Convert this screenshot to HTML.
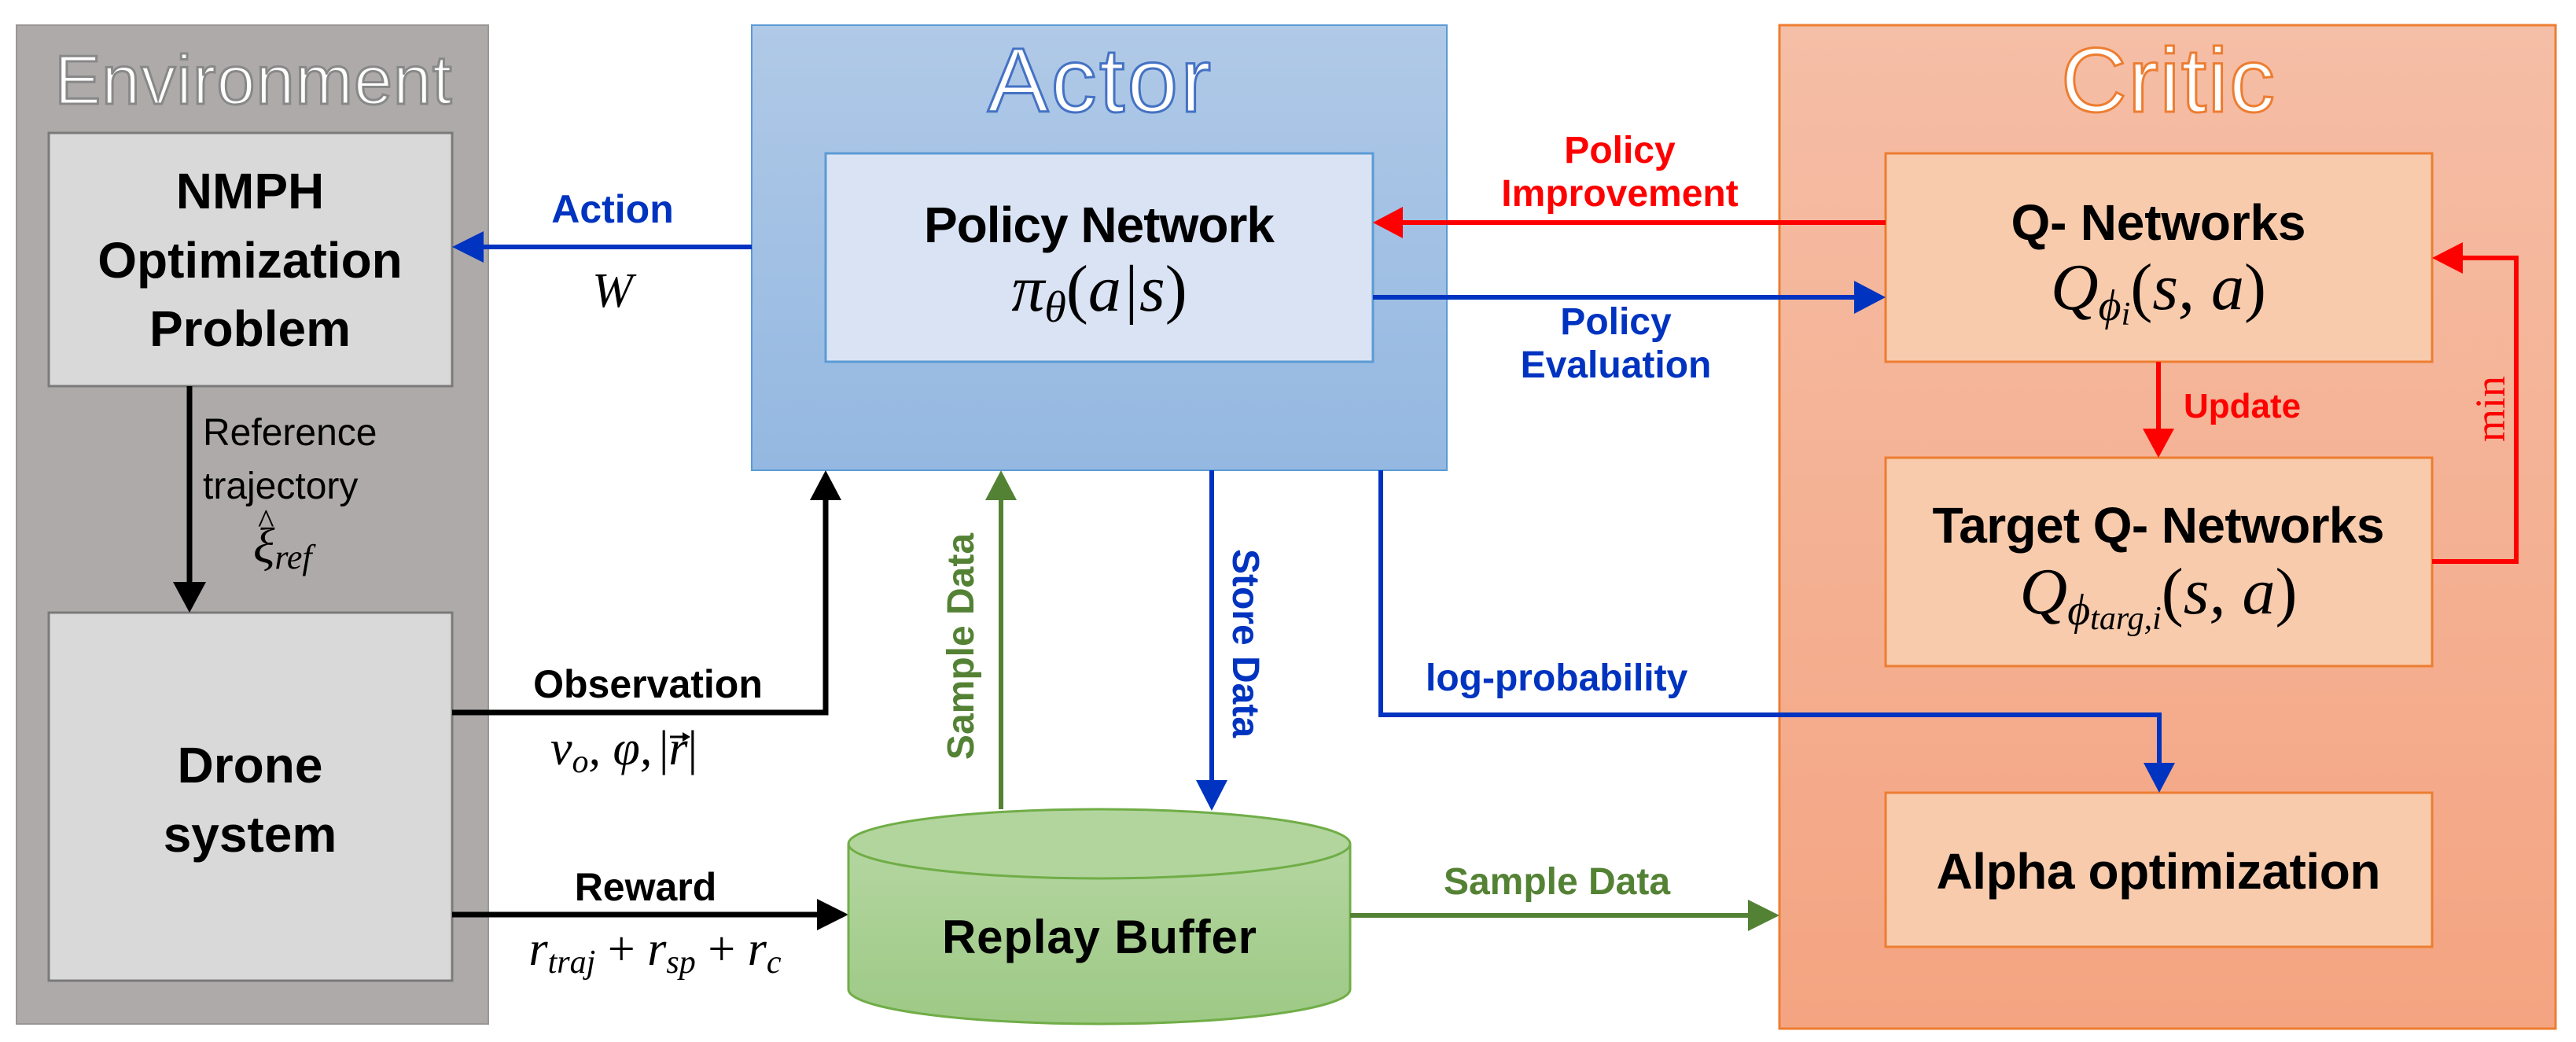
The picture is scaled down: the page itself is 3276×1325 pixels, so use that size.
<!DOCTYPE html>
<html><head><meta charset="utf-8"><style>html,body{margin:0;padding:0;background:#fff}svg{display:block}</style></head>
<body>
<svg width="3276" height="1325" viewBox="0 0 3276 1325" xmlns="http://www.w3.org/2000/svg">
<defs>
<linearGradient id="ga" x1="0" y1="0" x2="0" y2="1"><stop offset="0" stop-color="#b0c9e7"/><stop offset="1" stop-color="#94b8e1"/></linearGradient>
<linearGradient id="gc" x1="0" y1="0" x2="0" y2="1"><stop offset="0" stop-color="#f5bea6"/><stop offset="1" stop-color="#f4a481"/></linearGradient>
<linearGradient id="gg" x1="0" y1="0" x2="0" y2="1"><stop offset="0" stop-color="#b4d6a0"/><stop offset="1" stop-color="#9dc985"/></linearGradient>
</defs>
<style>
.b{font-family:"Liberation Sans",sans-serif;font-weight:bold}
.m{font-family:"Liberation Serif",serif;font-style:italic}
</style>
<!-- Environment -->
<rect x="21" y="32" width="600" height="1270" fill="#aeaaaa" stroke="#9a9696" stroke-width="2"/>
<text x="322" y="132" class="b" font-size="88" text-anchor="middle" fill="#fff" stroke="#888" stroke-width="3" textLength="505" style="font-weight:normal">Environment</text>
<rect x="62" y="169" width="513" height="322" fill="#d9d9d9" stroke="#7a7a7a" stroke-width="3"/>
<rect x="62" y="779" width="513" height="468" fill="#d9d9d9" stroke="#7a7a7a" stroke-width="3"/>
<g class="b" font-size="64" text-anchor="middle">
<text x="318" y="265">NMPH</text>
<text x="318" y="353">Optimization</text>
<text x="318" y="440">Problem</text>
<text x="318" y="995">Drone</text>
<text x="318" y="1083">system</text>
</g>
<line x1="241" y1="491" x2="241" y2="745" stroke="#000" stroke-width="7"/>
<polygon points="220,740 262,740 241,779" fill="#000"/>
<text x="258" y="566" font-family="Liberation Sans,sans-serif" font-size="48">Reference</text>
<text x="258" y="634" font-family="Liberation Sans,sans-serif" font-size="48">trajectory</text>
<text x="322" y="715" class="m" font-size="64">ξ<tspan font-size="44" dy="8">ref</tspan></text>
<text x="328" y="678" font-family="Liberation Serif,serif" font-size="44">^</text>

<!-- Actor -->
<rect x="956" y="32" width="884" height="566" fill="url(#ga)" stroke="#5b9bd5" stroke-width="2"/>
<text x="1398" y="142" class="b" font-size="116" text-anchor="middle" fill="#fff" stroke="#4472c4" stroke-width="3" style="font-weight:normal" textLength="284">Actor</text>
<rect x="1050" y="195" width="696" height="265" fill="#dae3f3" stroke="#5b9bd5" stroke-width="3"/>
<text x="1398" y="308" class="b" font-size="64" text-anchor="middle" textLength="446">Policy Network</text>
<text x="1398" y="395" class="m" font-size="84" text-anchor="middle">π<tspan font-size="56" dy="14">θ</tspan><tspan dy="-14" style="font-style:normal">(</tspan>a|s<tspan style="font-style:normal">)</tspan></text>

<!-- Critic -->
<rect x="2263" y="32" width="987" height="1276" fill="url(#gc)" stroke="#ed7d31" stroke-width="3"/>
<text x="2757" y="142" class="b" font-size="116" text-anchor="middle" fill="#fff" stroke="#ed7d31" stroke-width="3" style="font-weight:normal" textLength="272">Critic</text>
<rect x="2398" y="195" width="695" height="265" fill="#f8cbad" stroke="#ed7d31" stroke-width="3"/>
<text x="2745" y="305" class="b" font-size="64" text-anchor="middle" textLength="375">Q- Networks</text>
<text x="2745" y="393" class="m" font-size="84" text-anchor="middle">Q<tspan font-size="56" dy="14">ϕ</tspan><tspan font-size="42" dy="6">i</tspan><tspan dy="-20" style="font-style:normal">(</tspan>s, a<tspan style="font-style:normal">)</tspan></text>
<rect x="2398" y="582" width="695" height="265" fill="#f8cbad" stroke="#ed7d31" stroke-width="3"/>
<text x="2745" y="690" class="b" font-size="64" text-anchor="middle" textLength="575">Target Q- Networks</text>
<text x="2745" y="780" class="m" font-size="84" text-anchor="middle">Q<tspan font-size="56" dy="14">ϕ</tspan><tspan font-size="42" dy="6">targ,i</tspan><tspan dy="-20" style="font-style:normal">(</tspan>s, a<tspan style="font-style:normal">)</tspan></text>
<rect x="2398" y="1008" width="695" height="196" fill="#f8cbad" stroke="#ed7d31" stroke-width="3"/>
<text x="2745" y="1130" class="b" font-size="64" text-anchor="middle" textLength="565">Alpha optimization</text>

<!-- Update arrow -->
<line x1="2745" y1="460" x2="2745" y2="550" stroke="#f00" stroke-width="6"/>
<polygon points="2725,545 2765,545 2745,582" fill="#f00"/>
<text x="2777" y="531" class="b" font-size="44" fill="#f00">Update</text>
<!-- min loop -->
<polyline points="3093,714 3200,714 3200,328 3128,328" fill="none" stroke="#f00" stroke-width="6"/>
<polygon points="3093,328 3132,308 3132,348" fill="#f00"/>
<text x="0" y="0" transform="translate(3185,520) rotate(-90)" font-family="Liberation Serif,serif" font-size="54" fill="#f00" text-anchor="middle">min</text>

<!-- Policy Improvement -->
<line x1="2398" y1="283" x2="1780" y2="283" stroke="#f00" stroke-width="6"/>
<polygon points="1746,283 1784,263 1784,303" fill="#f00"/>
<text x="2060" y="207" class="b" font-size="48" fill="#f00" text-anchor="middle">Policy</text>
<text x="2060" y="262" class="b" font-size="48" fill="#f00" text-anchor="middle">Improvement</text>
<!-- Policy Evaluation -->
<line x1="1746" y1="378" x2="2360" y2="378" stroke="#0033c0" stroke-width="6"/>
<polygon points="2398,378 2358,357 2358,399" fill="#0033c0"/>
<text x="2055" y="425" class="b" font-size="48" fill="#0033c0" text-anchor="middle">Policy</text>
<text x="2055" y="480" class="b" font-size="48" fill="#0033c0" text-anchor="middle">Evaluation</text>

<!-- Action -->
<line x1="956" y1="314" x2="612" y2="314" stroke="#0033c0" stroke-width="6"/>
<polygon points="575,314 615,294 615,334" fill="#0033c0"/>
<text x="779" y="283" class="b" font-size="50" fill="#0033c0" text-anchor="middle">Action</text>
<text x="779" y="390" class="m" font-size="62" text-anchor="middle">W</text>

<!-- Observation -->
<polyline points="575,906 1050,906 1050,635" fill="none" stroke="#000" stroke-width="7"/>
<polygon points="1030,636 1070,636 1050,598" fill="#000"/>
<text x="824" y="887" class="b" font-size="50" text-anchor="middle">Observation</text>
<text x="700" y="972" class="m" font-size="62">v<tspan font-size="42" dy="10">o</tspan><tspan dy="-10">, φ,</tspan></text>
<text x="838" y="972" font-family="Liberation Serif,serif" font-size="62">|<tspan font-style="italic">r</tspan>|</text>
<line x1="852" y1="937" x2="874" y2="937" stroke="#000" stroke-width="3"/>
<polygon points="878,937 868,931 868,943" fill="#000"/>

<!-- Reward -->
<line x1="575" y1="1163" x2="1040" y2="1163" stroke="#000" stroke-width="7"/>
<polygon points="1079,1163 1039,1143 1039,1183" fill="#000"/>
<text x="821" y="1145" class="b" font-size="50" text-anchor="middle">Reward</text>
<text x="833" y="1227" class="m" font-size="62" text-anchor="middle">r<tspan font-size="42" dy="10">traj</tspan><tspan dy="-10" style="font-style:normal"> + </tspan>r<tspan font-size="42" dy="10">sp</tspan><tspan dy="-10" style="font-style:normal"> + </tspan>r<tspan font-size="42" dy="10">c</tspan></text>

<!-- Cylinder -->
<path d="M1079,1073 L1079,1258 A319,44 0 0 0 1717,1258 L1717,1073" fill="url(#gg)" stroke="#70ad47" stroke-width="3"/>
<ellipse cx="1398" cy="1073" rx="319" ry="44" fill="#b2d59e" stroke="#70ad47" stroke-width="3"/>
<text x="1398" y="1212" class="b" font-size="60" text-anchor="middle" textLength="400">Replay Buffer</text>

<!-- Sample Data up -->
<line x1="1273" y1="1029" x2="1273" y2="632" stroke="#548235" stroke-width="6"/>
<polygon points="1253,636 1293,636 1273,598" fill="#548235"/>
<text x="0" y="0" transform="translate(1238,822) rotate(-90)" class="b" font-size="48" fill="#548235" text-anchor="middle">Sample Data</text>
<!-- Store Data down -->
<line x1="1541" y1="598" x2="1541" y2="995" stroke="#0033c0" stroke-width="6"/>
<polygon points="1521,992 1561,992 1541,1031" fill="#0033c0"/>
<text x="0" y="0" transform="translate(1568,818) rotate(90)" class="b" font-size="48" fill="#0033c0" text-anchor="middle">Store Data</text>
<!-- log-probability -->
<polyline points="1756,598 1756,909 2746,909 2746,972" fill="none" stroke="#0033c0" stroke-width="6"/>
<polygon points="2726,970 2766,970 2746,1008" fill="#0033c0"/>
<text x="1813" y="878" class="b" font-size="48" fill="#0033c0">log-probability</text>
<!-- Sample Data right -->
<line x1="1717" y1="1164" x2="2228" y2="1164" stroke="#548235" stroke-width="6"/>
<polygon points="2263,1164 2223,1144 2223,1184" fill="#548235"/>
<text x="1980" y="1137" class="b" font-size="48" fill="#548235" text-anchor="middle">Sample Data</text>
</svg>
</body></html>
